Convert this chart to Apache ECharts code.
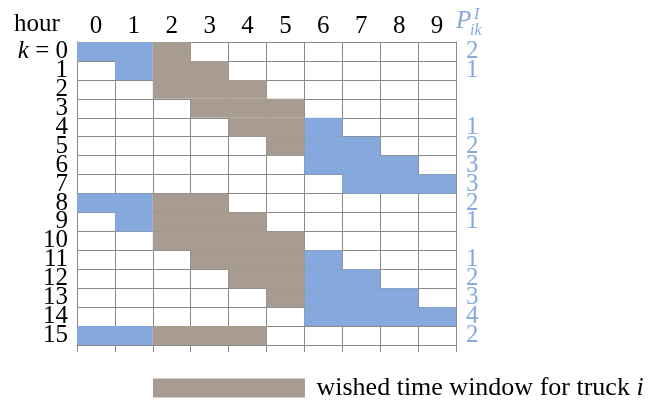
<!DOCTYPE html>
<html><head><meta charset="utf-8">
<script src="https://cdn.jsdelivr.net/npm/echarts@6/dist/echarts.min.js"></script>
<style>html,body{margin:0;padding:0;background:#fff}#c{width:655px;height:401px}</style>
</head><body><div id="c"></div>
<script>
const hours = ['0','1','2','3','4','5','6','7','8','9'];
const rowLabels = ['k = 0','1','2','3','4','5','6','7','8','9','10','11','12','13','14','15'];
const pValues = ['2','1','','','1','2','3','3','2','1','','1','2','3','4','2'];
// blue (service) hours per row: first and last hour, null = none
const blueFrom  = [0,1,null,null,6,6,6,7,0,1,null,6,6,6,6,0];
const blueTo    = [1,1,null,null,6,7,8,9,1,1,null,6,7,8,9,1];
// brown (wished time window) hours per row
const brownFrom = [2,2,2,3,4,5,null,null,2,2,2,3,4,5,null,2];
const brownTo   = [2,3,4,5,5,5,null,null,3,4,5,5,5,5,null,4];

const BLUE = '#86a9dd', BROWN = '#a89c91', GRID = '#8a8a8a';
const FONT = 'Liberation Serif';
const legendName = 'wished time window for truck i';

function ranges(from, to){
  const out = [];
  from.forEach((f,i)=>{ if(f!==null) out.push([f, i, to[i]]); });
  return out;
}
function renderRange(params, api){
  const x0 = api.value(0), y = api.value(1), x1 = api.value(2);
  const p0 = api.coord([x0, y]), p1 = api.coord([x1, y]);
  const s = api.size([1,1]);
  return {type:'rect', shape:{x:p0[0]-s[0]/2, y:p0[1]-s[1]/2, width:p1[0]-p0[0]+s[0], height:s[1]},
          style:{fill: api.visual('color')}};
}
const chart = echarts.init(document.getElementById('c'));
const axisLineStyle = {color: GRID, width: 1};
chart.setOption({
  animation:false,
  grid:{left:77, top:42, width:379, height:303},
  legend:{data:[legendName], left:153, top:375, padding:0, itemWidth:152, itemHeight:19, icon:'rect',
    selectedMode:false,
    formatter: () => '{t| wished time window for truck }{i|i}',
    textStyle:{fontFamily:FONT, fontSize:26, color:'#000',
      rich:{t:{fontFamily:FONT, fontSize:26, color:'#000'}, i:{fontFamily:FONT, fontSize:26, fontStyle:'italic', color:'#000'}}}},
  xAxis:[
    {type:'category', data:hours, position:'top', axisLine:{show:true, lineStyle:axisLineStyle},
     axisTick:{show:false}, axisLabel:{fontFamily:FONT, fontSize:25, color:'#000', margin:3, interval:0},
     splitLine:{show:true, interval:0, lineStyle:axisLineStyle}},
    {type:'category', data:hours, position:'bottom', axisLine:{show:true, lineStyle:axisLineStyle},
     axisTick:{show:true, length:7, interval:0, lineStyle:axisLineStyle}, axisLabel:{show:false}}
  ],
  yAxis:[
    {type:'category', data:rowLabels, inverse:true, position:'left', axisLine:{show:true, lineStyle:axisLineStyle},
     axisTick:{show:false}, splitLine:{show:true, interval:0, lineStyle:axisLineStyle},
     axisLabel:{interval:0, margin:9, fontFamily:FONT, fontSize:25, color:'#000',
       formatter:(v)=> v.indexOf('k')===0 ? '{k|k} = 0' : v,
       rich:{k:{fontFamily:FONT, fontSize:25, fontStyle:'italic', color:'#000'}}}},
    {type:'category', data:rowLabels.map((_, i)=>String(i)), inverse:true, position:'right',
     axisLine:{show:true, lineStyle:axisLineStyle}, axisTick:{show:false},
     axisLabel:{interval:0, margin:10, fontFamily:FONT, fontSize:25, color:BLUE,
       formatter:(v, idx)=> pValues[idx]}}
  ],
  graphic:[
    {type:'text', left:14, top:12, style:{text:'hour', font:'25px "Liberation Serif"', fill:'#000'}},
    {type:'text', left:456, top:9, style:{text:'P', font:'italic 25px "Liberation Serif"', fill:BLUE}},
    {type:'text', left:474, top:7, style:{text:'I', font:'italic 16px "Liberation Serif"', fill:BLUE}},
    {type:'text', left:470, top:23, style:{text:'ik', font:'italic 16px "Liberation Serif"', fill:BLUE}}
  ],
  series:[
    {type:'custom', name:'service', xAxisIndex:0, yAxisIndex:0, encode:{x:[0,2], y:1},
     itemStyle:{color:BLUE}, renderItem:renderRange, data:ranges(blueFrom, blueTo)},
    {type:'custom', name:legendName, xAxisIndex:0, yAxisIndex:0, encode:{x:[0,2], y:1},
     itemStyle:{color:BROWN}, renderItem:renderRange, data:ranges(brownFrom, brownTo)}
  ]
});
</script></body></html>
